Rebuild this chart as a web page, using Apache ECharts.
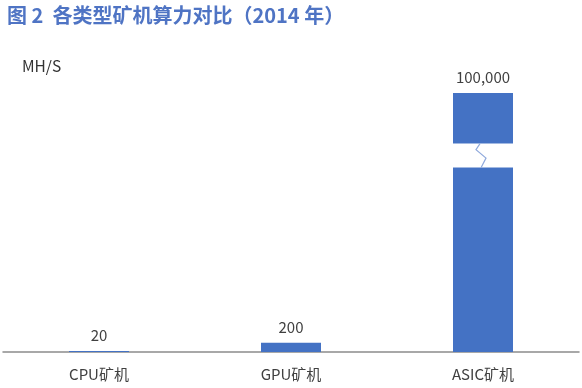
<!DOCTYPE html>
<html><head><meta charset="utf-8">
<script src="https://cdn.jsdelivr.net/npm/echarts@6/dist/echarts.min.js"></script>
<style>html,body{margin:0;padding:0;background:#fff}#c{width:582px;height:388px}</style>
</head><body><div id="c"></div>
<script>
var categories = ['CPU矿机', 'GPU矿机', 'ASIC矿机'];
var values = [20, 200, 100000];
var labels = ['20', '200', '100,000'];
var breakStart = 4000, breakEnd = 98900;

var chart = echarts.init(document.getElementById('c'));
var font = '"Noto Sans CJK SC", "Noto Sans", sans-serif';
chart.setOption({
  animation: false,
  title: {
    text: '图 2  各类型矿机算力对比（2014 年）',
    left: 2, top: 0,
    textStyle: { color: '#4f74c4', fontSize: 20, fontWeight: 'bold', fontFamily: font }
  },
  graphic: [{
    type: 'text', left: 22, top: 58,
    style: { text: 'MH/S', fontSize: 15.5, fill: '#333', fontFamily: font }
  }],
  grid: { left: 3, right: 3, top: 93, bottom: 36 },
  xAxis: {
    type: 'category', data: categories,
    axisLine: { lineStyle: { color: '#8c8c8c', width: 1.5 } },
    axisTick: { show: false },
    axisLabel: { fontSize: 15, color: '#404040', margin: 15, fontFamily: font }
  },
  yAxis: {
    type: 'value', min: 0, max: 100000,
    axisLine: { show: false }, axisTick: { show: false },
    axisLabel: { show: false }, splitLine: { show: false },
    breaks: [{ start: breakStart, end: breakEnd, gap: 520 }],
    breakArea: {
      show: true,
      itemStyle: { color: '#fff', borderColor: '#fff', borderWidth: 0, opacity: 1 },
      zigzagAmplitude: 0
    },
    breakLabelLayout: { moveOverlap: false }
  },
  series: [{
    type: 'bar', data: values, barWidth: 60,
    itemStyle: { color: '#4472c4' },
    label: {
      show: true, position: 'top', distance: 8,
      fontSize: 15, color: '#404040', fontFamily: font,
      formatter: function (p) { return labels[p.dataIndex]; }
    }
  }, {
    type: 'custom', zlevel: 1, z: 50, clip: false,
    data: [[2, breakStart, breakEnd]],
    renderItem: function (params, api) {
      var a = api.coord([api.value(0), api.value(2)]);
      var b = api.coord([api.value(0), api.value(1)]);
      var h = b[1] - a[1];
      var x = a[0] - 3;
      return {
        type: 'polyline',
        shape: { points: [[x, a[1]], [x - 4, a[1] + h * 0.25], [x + 6, a[1] + h * 0.6], [x + 1, b[1]]] },
        style: { stroke: '#8fa9dc', lineWidth: 1.2, fill: null }
      };
    }
  }]
});
</script></body></html>
